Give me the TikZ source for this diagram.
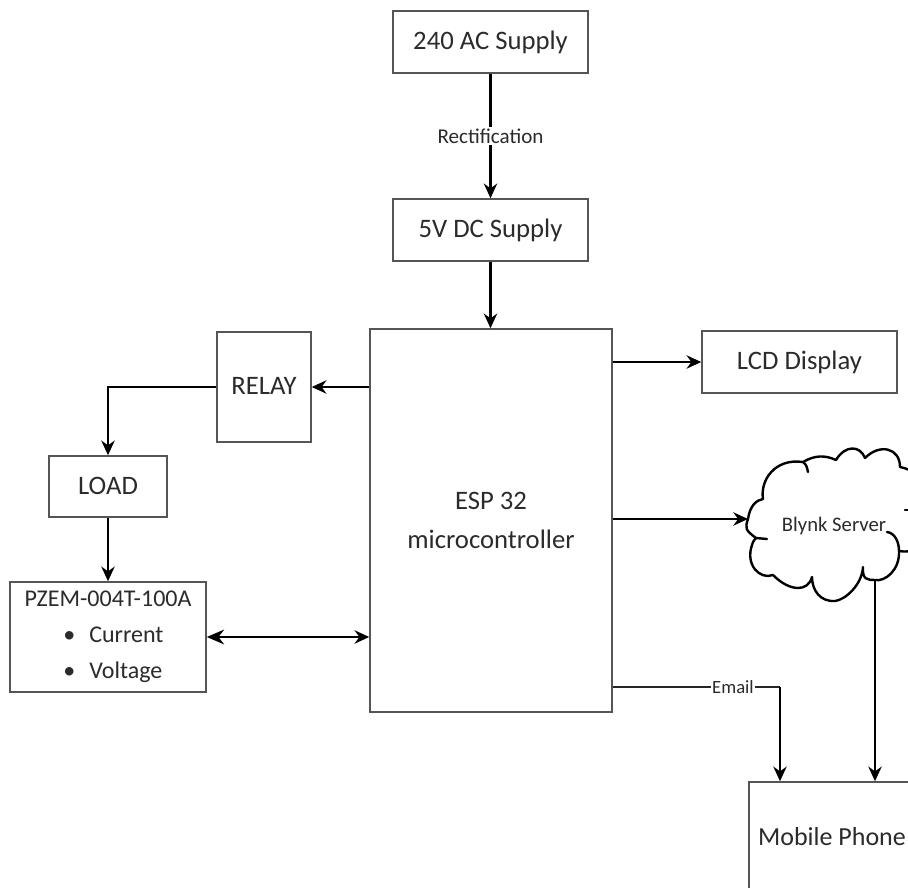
\documentclass[tikz,border=0pt]{standalone}
\usepackage{fontspec}
\setmainfont{Carlito}
\usetikzlibrary{arrows.meta}
\definecolor{inkc}{HTML}{2B2B2B}
\definecolor{edgec}{HTML}{555555}
\tikzset{
  blockbox/.style={draw=edgec,line width=1.1pt,fill=white,text=inkc,inner sep=0pt,align=center,font=\fontsize{20}{27}\selectfont},
  oneline/.style={text height=13pt,text depth=1.5pt},
  link/.style={draw=black,line width=1.7pt,-{Stealth[length=11pt,width=10pt]}},
  plain/.style={draw=black!85,line width=1.6pt},
  smalltext/.style={fill=white,text=inkc,inner sep=1pt,font=\fontsize{15.8}{18}\selectfont},
  cloudline/.style={draw=black,line width=1.8pt,line cap=round,line join=round}
}
\begin{document}
\begin{tikzpicture}[x=0.75pt,y=-0.75pt]
\useasboundingbox (0,0) rectangle (908,888);
\clip (0,0) rectangle (908,888);
\fill[white] (0,0) rectangle (908,888);

\node[blockbox,oneline,minimum width=146.25pt,minimum height=46.5pt] (ac) at (490.5,42) {240 AC Supply};
\node[blockbox,oneline,minimum width=146.25pt,minimum height=46.5pt] (dc) at (490.5,230) {5V DC Supply};
\node[blockbox,minimum width=181.5pt,minimum height=287.25pt] (esp) at (491,520.5) {ESP 32\\[2pt]microcontroller};
\node[blockbox,oneline,minimum width=146.25pt,minimum height=46.5pt] (lcd) at (799.5,362) {LCD Display};
\node[blockbox,oneline,minimum width=70.5pt,minimum height=82.5pt] (relay) at (264,387) {RELAY};
\node[blockbox,oneline,minimum width=88.5pt,minimum height=45.75pt] (load) at (108,486.5) {LOAD};
\node[blockbox,minimum width=147pt,minimum height=82.5pt,font=\fontsize{18}{27}\selectfont,text depth=3pt] (pzem) at (108,637) {PZEM-004T-100A\\\makebox[67pt][l]{\textbullet\hspace{10.5pt}Current}\\\makebox[67pt][l]{\textbullet\hspace{10.5pt}Voltage}};
\node[blockbox,oneline,minimum width=124.5pt,minimum height=84pt,font=\fontsize{19.5}{27}\selectfont] (phone) at (832,838) {Mobile Phone};

% cloud outline
\coordinate (cloudW) at (748,519);
\coordinate (cloudS) at (875,580);
\path[cloudline]
  (756,538) .. controls (745,530) and (745,528) .. (cloudW)
  .. controls (750,505) and (757,500) .. (763,499)
  .. controls (760,480) and (775,458) .. (803,462)
  .. controls (815,455) and (825,455) .. (836,460)
  .. controls (845,445) and (860,445) .. (865,458)
  .. controls (880,443) and (900,448) .. (900,467)
  .. controls (905,468) and (912,470) .. (920,478)
  (920,548) .. controls (912,552) and (905,552) .. (899,551)
  .. controls (900,570) and (885,582) .. (875,580)
  .. controls (868,580) and (862,580) .. (863,567)
  .. controls (862,585) and (845,600) .. (835,601)
  .. controls (820,602) and (812,590) .. (812,577)
  .. controls (808,592) and (790,592) .. (773,575)
  .. controls (760,580) and (745,565) .. (752,545)
  .. controls (753,541) and (755,539) .. (756,538) -- (767,539);
\path[cloudline] (803,462) .. controls (807,465) and (807,468) .. (808,472);
\path[cloudline] (887,532) .. controls (895,533) and (899,542) .. (899,551);
\path[cloudline] (905,510) -- (908,510);
\node[text=inkc,inner sep=0pt,font=\fontsize{15.5}{18}\selectfont] (blynk) at (834,526) {Blynk Server};

% connectors
\draw[link] (ac) -- node[smalltext,pos=0.5] (rect) {Rectification} (dc);
\draw[link] (dc) -- (esp.north -| dc);
\draw[link] (esp.west |- relay.east) -- (relay.east);
\draw[link] (esp.east |- lcd.west) -- (lcd.west);
\draw[link] (esp.east |- cloudW) -- (cloudW);
\draw[link] (cloudS) -- (cloudS |- phone.north);
\draw[link] (relay.west) -| (load.north);
\draw[link] (load) -- (pzem);
\draw[black,line width=1.7pt,{Stealth[length=13pt,width=11pt]}-{Stealth[length=11pt,width=10pt]}] (pzem.east) -- (esp.west |- pzem.east);
\coordinate (mailturn) at (780,687);
\draw[plain] (esp.east |- mailturn) -- (mailturn);
\draw[link] (mailturn) -- (mailturn |- phone.north);
\node[smalltext,font=\fontsize{14}{16}\selectfont] (email) at (733,687) {Email};
\end{tikzpicture}
\end{document}
